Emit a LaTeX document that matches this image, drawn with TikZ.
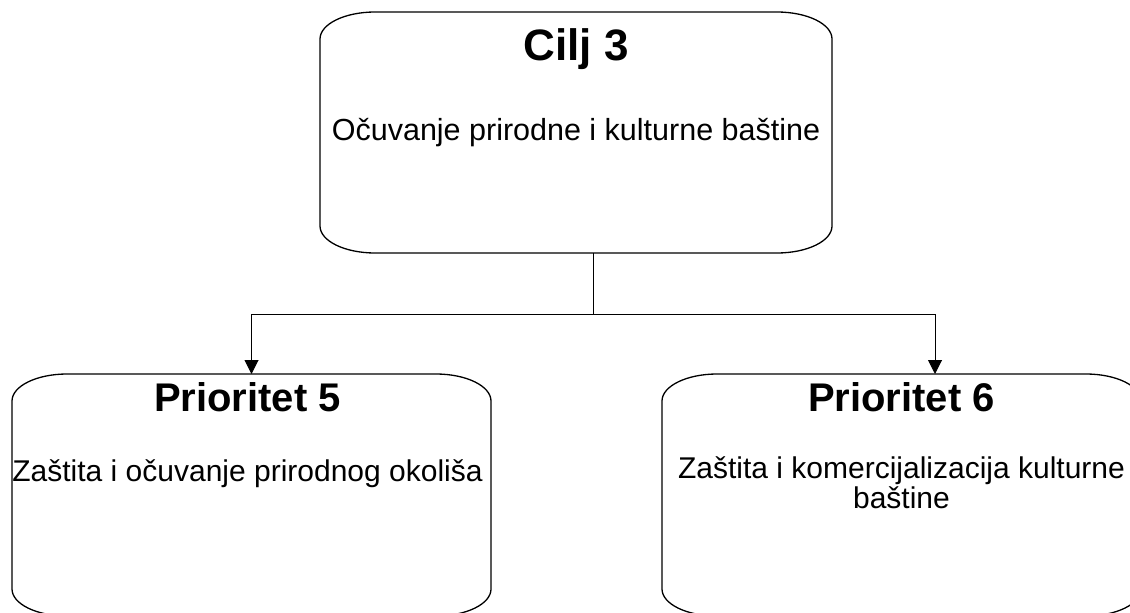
\documentclass[tikz,border=0pt]{standalone}
\usepackage{fontspec}
\setmainfont{Liberation Sans}
\usetikzlibrary{arrows.meta}

\begin{document}
\begin{tikzpicture}[x=1pt, y=-1pt,
    goalbox/.style={minimum width=#1, minimum height=242pt, inner sep=0pt, outer sep=0pt},
    outline/.style={line width=1.3pt},
    heading/.style={anchor=base, font=\fontsize{40}{44}\selectfont\bfseries},
    body/.style={anchor=base, align=center, font=\fontsize{30}{30}\selectfont},
    link/.style={line width=1pt},
    arrow/.style={link, -{Triangle[width=14pt, length=14pt]}}]
  \clip (0,0) rectangle (1130,613);

  \node[goalbox=512pt, minimum height=241pt] (cilj) at (576,132.5) {};
  \node[goalbox=479pt] (p5) at (251.5,495) {};
  \node[goalbox=479pt] (p6) at (901.5,495) {};

  % rounded outlines
  \foreach \b in {cilj,p5,p6}
    \draw[outline] ([xshift=55pt]\b.north west) -- ([xshift=-55pt]\b.north east)
      arc[start angle=90, end angle=0, x radius=55pt, y radius=27pt]
      -- ([yshift=27pt]\b.south east)
      arc[start angle=0, end angle=-90, x radius=55pt, y radius=27pt]
      -- ([xshift=55pt]\b.south west)
      arc[start angle=270, end angle=180, x radius=55pt, y radius=27pt]
      -- ([yshift=-27pt]\b.north west)
      arc[start angle=180, end angle=90, x radius=55pt, y radius=27pt] -- cycle;

  \node[heading, font=\fontsize{44}{48}\selectfont\bfseries] (ciljT) at ([yshift=-48pt]cilj.north) {Cilj 3};
  \node[body, font=\fontsize{30.5}{30}\selectfont] (ciljD) at ([yshift=-128pt]cilj.north) {Očuvanje prirodne i kulturne baštine};
  \node[heading] (p5T) at ([xshift=-4pt, yshift=-37pt]p5.north) {Prioritet 5};
  \node[body] (p5D) at ([xshift=-4pt, yshift=-107pt]p5.north) {Zaštita i očuvanje prirodnog okoliša};
  \node[heading] (p6T) at ([yshift=-37pt]p6.north) {Prioritet 6};
  \node[body] (p6D) at ([yshift=-134pt]p6.north) {Zaštita i komercijalizacija kulturne\\baštine};

  \coordinate (split) at (593,314);
  \draw[link] (split |- cilj.south) -- (split);
  \draw[arrow] (split) -| (p5.north);
  \draw[arrow] (split) -| ([xshift=33.5pt]p6.north);
\end{tikzpicture}
\end{document}
